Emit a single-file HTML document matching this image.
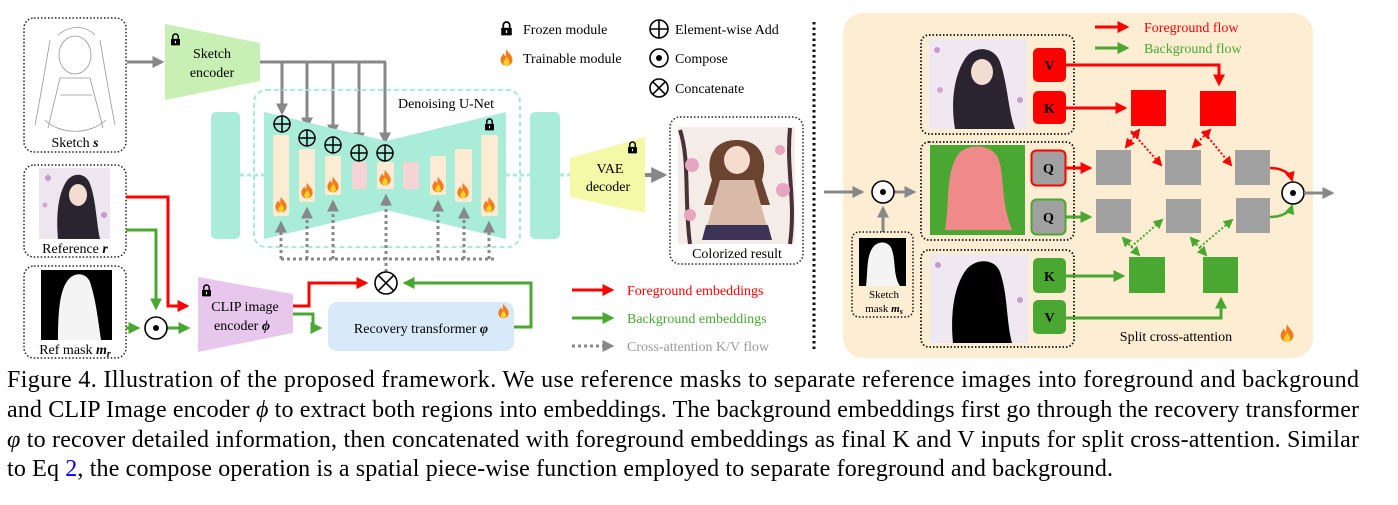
<!DOCTYPE html>
<html><head><meta charset="utf-8"><style>
html,body{margin:0;padding:0;background:#fff;}
svg{display:block;}
text{font-family:"Liberation Serif",serif;}
</style></head><body>
<svg width="1398" height="505" viewBox="0 0 1398 505" xmlns="http://www.w3.org/2000/svg">
<defs>
<marker id="ag" markerWidth="4" markerHeight="4" refX="3.2" refY="2" orient="auto" markerUnits="strokeWidth"><path d="M0,0 L4,2 L0,4 z" fill="#888"/></marker>
<marker id="ar" markerWidth="4" markerHeight="4" refX="3.2" refY="2" orient="auto" markerUnits="strokeWidth"><path d="M0,0 L4,2 L0,4 z" fill="#f00"/></marker>
<marker id="agr" markerWidth="4" markerHeight="4" refX="3.2" refY="2" orient="auto" markerUnits="strokeWidth"><path d="M0,0 L4,2 L0,4 z" fill="#4aa832"/></marker>
<marker id="ars" markerWidth="5" markerHeight="5" refX="4" refY="2.5" orient="auto-start-reverse" markerUnits="strokeWidth"><path d="M0,0 L5,2.5 L0,5 z" fill="#f00"/></marker>
<marker id="ags" markerWidth="5" markerHeight="5" refX="4" refY="2.5" orient="auto-start-reverse" markerUnits="strokeWidth"><path d="M0,0 L5,2.5 L0,5 z" fill="#4aa832"/></marker>
<symbol id="flame" viewBox="0 0 20 24"><path d="M10,1 C12,6 18,9 18,15 C18,20 14,23 10,23 C6,23 2,20 2,15 C2,11 5,9 6,6 C7,9 8,10 9,10 C9,7 9,4 10,1z" fill="#f47a1a"/><path d="M10,11 C12,14 14,16 14,19 C14,21 12,23 10,23 C8,23 6,21 6,19 C6,16 9,15 10,11z" fill="#ffd12a"/></symbol>
<symbol id="lock" viewBox="0 0 16 18"><path d="M4,8 V5 A4,4 0 0 1 12,5 V8" fill="none" stroke="#000" stroke-width="2.2"/><rect x="1.5" y="8" width="13" height="9.5" rx="1" fill="#000"/><rect x="7.2" y="11" width="1.6" height="3.5" fill="#fff"/></symbol>
</defs>

<rect x="24" y="18" width="102" height="134" rx="10" fill="none" stroke="#222" stroke-width="1.5" stroke-dasharray="1.5 2"/>
<g fill="none" stroke="#999" stroke-width="0.8">
<ellipse cx="75" cy="55" rx="16" ry="19"/><path d="M50,40 C45,70 40,100 35,125 M100,40 C105,70 110,100 115,125 M60,78 L48,128 M90,78 L103,128 M60,78 L90,78 M45,120 C60,135 90,135 106,120 M58,35 C70,25 85,25 95,35 M60,95 L92,95"/>
</g>
<text x="75" y="147" font-size="14" text-anchor="middle">Sketch <tspan font-style="italic" font-weight="bold">s</tspan></text>

<rect x="24" y="165" width="102" height="92" rx="10" fill="none" stroke="#222" stroke-width="1.5" stroke-dasharray="1.5 2"/>
<rect x="39" y="168" width="71" height="71" fill="#ede6ef"/>
<path d="M58,239 C56,215 58,195 66,182 C72,172 86,172 90,184 C96,200 96,220 100,239z" fill="#2a2430"/>
<ellipse cx="78" cy="195" rx="9" ry="11" fill="#f3dcd2"/>
<circle cx="48" cy="178" r="3" fill="#c79acb"/><circle cx="104" cy="215" r="3" fill="#c79acb"/><circle cx="45" cy="205" r="2.5" fill="#d9a6c9"/>
<text x="75" y="253" font-size="14" text-anchor="middle">Reference <tspan font-style="italic" font-weight="bold">r</tspan></text>

<rect x="24" y="266" width="102" height="92" rx="10" fill="none" stroke="#222" stroke-width="1.5" stroke-dasharray="1.5 2"/>
<rect x="41" y="270" width="71" height="70" fill="#000"/>
<path d="M58,340 C58,310 60,290 68,280 C74,272 86,272 90,282 C96,300 98,320 101,340z" fill="#f4f4f4"/>
<text x="75" y="354" font-size="14" text-anchor="middle">Ref mask <tspan font-style="italic" font-weight="bold">m</tspan><tspan font-style="italic" font-weight="bold" font-size="10" dy="3">r</tspan></text>

<line x1="127" y1="62" x2="162" y2="62" stroke="#888" stroke-width="3" marker-end="url(#ag)"/>
<polygon points="165,24 260,43 260,81 165,100" fill="#c9f0b4"/>
<use href="#lock" x="170" y="33" width="11" height="13"/>
<text x="212" y="58" font-size="14" text-anchor="middle">Sketch</text>
<text x="212" y="77" font-size="14" text-anchor="middle">encoder</text>
<g stroke="#888" stroke-width="3" fill="none">
<polyline points="260,62 386,62"/>
<line x1="282" y1="62" x2="282" y2="113" marker-end="url(#ag)"/>
<line x1="307" y1="62" x2="307" y2="127" marker-end="url(#ag)"/>
<line x1="333" y1="62" x2="333" y2="134" marker-end="url(#ag)"/>
<line x1="359" y1="62" x2="359" y2="142" marker-end="url(#ag)"/>
<line x1="385" y1="62" x2="385" y2="142" marker-end="url(#ag)"/>
</g>

<rect x="254" y="90" width="266" height="157" rx="12" fill="none" stroke="#9ee8d4" stroke-width="1.8" stroke-dasharray="5 3"/>
<text x="446" y="108" font-size="14" text-anchor="middle">Denoising U-Net</text>
<rect x="211" y="112" width="29" height="127" rx="5" fill="#a9ecd8"/>
<rect x="530" y="112" width="30" height="127" rx="5" fill="#a9ecd8"/>
<line x1="240" y1="175" x2="264" y2="175" stroke="#a9ecd8" stroke-width="3" stroke-dasharray="4 3"/>
<line x1="506" y1="175" x2="530" y2="175" stroke="#a9ecd8" stroke-width="3" stroke-dasharray="4 3"/>
<line x1="560" y1="175" x2="570" y2="175" stroke="#a9ecd8" stroke-width="3" stroke-dasharray="4 3"/>
<polygon points="264,112 386,141 506,112 506,239 386,210 264,239" fill="#a9ecd8"/>
<g fill="#fdebd3">
<rect x="273" y="135" width="16" height="81" rx="2"/>
<rect x="299" y="149" width="16" height="53" rx="2"/>
<rect x="325" y="156" width="16" height="39" rx="2"/>
<rect x="377" y="162" width="17" height="27" rx="2"/>
<rect x="430" y="156" width="16" height="39" rx="2"/>
<rect x="455" y="149" width="17" height="53" rx="2"/>
<rect x="481" y="135" width="17" height="81" rx="2"/>
</g>
<rect x="352" y="162" width="15" height="27" rx="2" fill="#f6d3d4"/>
<rect x="403" y="162" width="16" height="27" rx="2" fill="#f6d3d4"/>
<use href="#lock" x="484" y="118" width="11" height="13"/>
<use href="#flame" x="274" y="196" width="14" height="17"/>
<use href="#flame" x="300" y="182" width="14" height="17"/>
<use href="#flame" x="326" y="176" width="14" height="17"/>
<use href="#flame" x="378" y="169" width="14" height="17"/>
<use href="#flame" x="431" y="176" width="14" height="17"/>
<use href="#flame" x="456" y="182" width="14" height="17"/>
<use href="#flame" x="482" y="196" width="14" height="17"/>
<g fill="none" stroke="#000" stroke-width="1.5">
<circle cx="282" cy="124" r="8"/><path d="M274,124 h16 M282,116 v16"/>
<circle cx="307" cy="138" r="8"/><path d="M299,138 h16 M307,130 v16"/>
<circle cx="333" cy="145" r="8"/><path d="M325,145 h16 M333,137 v16"/>
<circle cx="359" cy="153" r="8"/><path d="M351,153 h16 M359,145 v16"/>
<circle cx="385" cy="153" r="8"/><path d="M377,153 h16 M385,145 v16"/>
</g>
<g stroke="#888" stroke-width="3" stroke-dasharray="3 3" fill="none">
<polyline points="281,259 497,259"/>
<line x1="281" y1="259" x2="281" y2="223" marker-end="url(#ag)"/>
<line x1="307" y1="259" x2="307" y2="209" marker-end="url(#ag)"/>
<line x1="333" y1="259" x2="333" y2="202" marker-end="url(#ag)"/>
<line x1="386" y1="272" x2="386" y2="196" marker-end="url(#ag)"/>
<line x1="438" y1="259" x2="438" y2="202" marker-end="url(#ag)"/>
<line x1="464" y1="259" x2="464" y2="209" marker-end="url(#ag)"/>
<line x1="489" y1="259" x2="489" y2="223" marker-end="url(#ag)"/>
</g>

<polyline points="126,197 168,197 168,306 187,306" fill="none" stroke="#f00" stroke-width="3" marker-end="url(#ar)"/>
<polyline points="126,230 156,230 156,308" fill="none" stroke="#4aa832" stroke-width="3" marker-end="url(#agr)"/>
<line x1="126" y1="328" x2="138" y2="328" stroke="#4aa832" stroke-width="3" marker-end="url(#agr)"/>
<line x1="167" y1="328" x2="188" y2="328" stroke="#4aa832" stroke-width="3" marker-end="url(#agr)"/>
<circle cx="156" cy="328" r="11" fill="#fff" stroke="#000" stroke-width="1.6"/><circle cx="156" cy="328" r="3" fill="#000"/>
<polygon points="198,277 293,294 293,333 198,352" fill="#e8c7ec"/>
<use href="#lock" x="201" y="284" width="11" height="13"/>
<text x="245" y="311" font-size="14" text-anchor="middle">CLIP image</text>
<text x="242" y="330" font-size="14" text-anchor="middle">encoder <tspan font-style="italic" font-weight="bold">ϕ</tspan></text>
<polyline points="293,306 309,306 309,283 366,283" fill="none" stroke="#f00" stroke-width="3" marker-end="url(#ar)"/>
<polyline points="293,314 313,314 313,328 320,328" fill="none" stroke="#4aa832" stroke-width="3" marker-end="url(#agr)"/>
<rect x="328" y="302" width="186" height="49" rx="9" fill="#d8eafa"/>
<text x="421" y="333" font-size="14" text-anchor="middle">Recovery transformer <tspan font-style="italic" font-weight="bold">φ</tspan></text>
<use href="#flame" x="497" y="303" width="13" height="16"/>
<polyline points="514,327 531,327 531,283 405,283" fill="none" stroke="#4aa832" stroke-width="3" marker-end="url(#agr)"/>
<circle cx="386" cy="283" r="11" fill="#fff" stroke="#000" stroke-width="1.6"/>
<path d="M378.2,275.2 L393.8,290.8 M393.8,275.2 L378.2,290.8" stroke="#000" stroke-width="1.6"/>

<polygon points="570,158 645,137 645,213 570,197" fill="#f3f9a6"/>
<use href="#lock" x="627" y="141" width="11" height="13"/>
<text x="610" y="173" font-size="14" text-anchor="middle">VAE</text>
<text x="608" y="191" font-size="14" text-anchor="middle">decoder</text>
<line x1="645" y1="175" x2="664" y2="175" stroke="#888" stroke-width="4" marker-end="url(#ag)"/>
<rect x="670" y="117" width="133" height="147" rx="10" fill="none" stroke="#222" stroke-width="1.5" stroke-dasharray="1.5 2"/>
<rect x="678" y="127" width="117" height="117" fill="#f4ece6"/>
<path d="M680,130 C690,160 684,200 690,244 M790,128 C786,170 796,200 790,244" stroke="#4a3038" stroke-width="4" fill="none"/>
<circle cx="692" cy="165" r="7" fill="#e6a5c0"/><circle cx="783" cy="190" r="7" fill="#e6a5c0"/><circle cx="780" cy="150" r="5" fill="#e6a5c0"/><circle cx="690" cy="215" r="6" fill="#e6a5c0"/>
<path d="M712,180 C705,160 712,140 737,140 C762,140 768,160 762,180 L770,205 L704,205z" fill="#6b4331"/>
<ellipse cx="737" cy="160" rx="13" ry="14" fill="#f6dccd"/>
<path d="M720,180 L754,180 L768,230 L706,230z" fill="#d9b9a8"/>
<path d="M706,225 L768,225 L772,240 L702,240z" fill="#3c3357"/>
<text x="737" y="258" font-size="14" text-anchor="middle">Colorized result</text>

<use href="#lock" x="500" y="21" width="13" height="15"/>
<text x="523" y="34" font-size="14">Frozen module</text>
<use href="#flame" x="499" y="48" width="15" height="19"/>
<text x="523" y="63" font-size="14">Trainable module</text>
<g fill="none" stroke="#000" stroke-width="1.6">
<circle cx="659" cy="29" r="9"/><path d="M650,29 h18 M659,20 v18"/>
<circle cx="659" cy="58" r="9"/>
<circle cx="659" cy="88" r="9"/><path d="M652.6,81.6 L665.4,94.4 M665.4,81.6 L652.6,94.4"/>
</g>
<circle cx="659" cy="58" r="3" fill="#000"/>
<text x="675" y="34" font-size="14">Element-wise Add</text>
<text x="675" y="63" font-size="14">Compose</text>
<text x="675" y="93" font-size="14">Concatenate</text>
<line x1="572" y1="290" x2="612" y2="290" stroke="#f00" stroke-width="3" marker-end="url(#ar)"/>
<text x="627" y="295" font-size="14" fill="#f00">Foreground embeddings</text>
<line x1="572" y1="318" x2="612" y2="318" stroke="#4aa832" stroke-width="3" marker-end="url(#agr)"/>
<text x="627" y="323" font-size="14" fill="#4aa832">Background embeddings</text>
<line x1="572" y1="346" x2="612" y2="346" stroke="#888" stroke-width="3" stroke-dasharray="3 3" marker-end="url(#ag)"/>
<text x="627" y="351" font-size="14" fill="#999">Cross-attention K/V flow</text>

<line x1="814" y1="22" x2="814" y2="350" stroke="#111" stroke-width="3" stroke-dasharray="2.5 3"/>

<rect x="843" y="13" width="470" height="345" rx="20" fill="#fdedd3"/>
<line x1="1095" y1="27" x2="1127" y2="27" stroke="#f00" stroke-width="3" marker-end="url(#ar)"/>
<text x="1144" y="32" font-size="14" fill="#f00">Foreground flow</text>
<line x1="1095" y1="48" x2="1127" y2="48" stroke="#4aa832" stroke-width="3" marker-end="url(#agr)"/>
<text x="1144" y="53" font-size="14" fill="#4aa832">Background flow</text>

<rect x="921" y="35" width="153" height="99" rx="8" fill="none" stroke="#111" stroke-width="1.8" stroke-dasharray="1.5 2"/>
<rect x="929" y="39" width="98" height="90" fill="#efe8f0"/>
<path d="M955,129 C950,100 955,70 968,55 C978,45 995,48 1000,62 C1008,85 1008,110 1015,129z" fill="#2a2430"/>
<ellipse cx="982" cy="72" rx="11" ry="13" fill="#f3dcd2"/>
<circle cx="937" cy="50" r="3" fill="#c79acb"/><circle cx="940" cy="90" r="3" fill="#d9a6c9"/><circle cx="1020" cy="100" r="3" fill="#c79acb"/>
<rect x="1033" y="48" width="33" height="34" rx="5" fill="#f00"/>
<text x="1049.5" y="70" font-size="14" font-weight="bold" text-anchor="middle">V</text>
<rect x="1033" y="91" width="33" height="33" rx="5" fill="#f00"/>
<text x="1049.5" y="113" font-size="14" font-weight="bold" text-anchor="middle">K</text>

<rect x="921" y="142" width="153" height="98" rx="8" fill="none" stroke="#111" stroke-width="1.8" stroke-dasharray="1.5 2"/>
<rect x="930" y="145" width="95" height="90" fill="#4aa832"/>
<path d="M945,230 C950,200 945,170 960,152 C972,143 992,145 998,158 C1005,175 1000,200 1012,230z" fill="#f08a8a"/>
<rect x="1031.5" y="150.5" width="34" height="35" rx="5" fill="#a0a0a0" stroke="#f00" stroke-width="2"/>
<text x="1048.5" y="173" font-size="14" font-weight="bold" text-anchor="middle">Q</text>
<rect x="1031.5" y="199.5" width="34" height="35" rx="5" fill="#a0a0a0" stroke="#4aa832" stroke-width="2"/>
<text x="1048.5" y="222" font-size="14" font-weight="bold" text-anchor="middle">Q</text>

<rect x="921" y="250" width="153" height="97" rx="8" fill="none" stroke="#111" stroke-width="1.8" stroke-dasharray="1.5 2"/>
<rect x="930" y="254" width="98" height="89" fill="#efe8f0"/>
<path d="M953,343 C950,310 955,285 966,270 C975,258 995,258 1000,272 C1008,295 1006,320 1012,343z" fill="#000"/>
<circle cx="938" cy="265" r="3" fill="#c79acb"/><circle cx="1020" cy="300" r="3" fill="#c79acb"/>
<rect x="1033" y="258" width="33" height="35" rx="5" fill="#4aa832"/>
<text x="1049.5" y="281" font-size="14" font-weight="bold" text-anchor="middle">K</text>
<rect x="1033" y="300" width="33" height="34" rx="5" fill="#4aa832"/>
<text x="1049.5" y="322" font-size="14" font-weight="bold" text-anchor="middle">V</text>

<rect x="1131" y="90" width="35" height="36" fill="#f00"/>
<rect x="1200" y="91" width="36" height="35" fill="#f00"/>
<g fill="#a0a0a0">
<rect x="1096" y="150" width="35" height="35"/><rect x="1165" y="150" width="36" height="35"/><rect x="1235" y="150" width="35" height="35"/>
<rect x="1096" y="199" width="35" height="34"/><rect x="1166" y="199" width="35" height="34"/><rect x="1236" y="198" width="34" height="35"/>
</g>
<rect x="1129" y="257" width="36" height="36" fill="#4aa832"/>
<rect x="1203" y="257" width="35" height="36" fill="#4aa832"/>

<polyline points="1066,65 1219,65 1219,84" fill="none" stroke="#f00" stroke-width="3" marker-end="url(#ar)"/>
<line x1="1066" y1="108" x2="1125" y2="108" stroke="#f00" stroke-width="3" marker-end="url(#ar)"/>
<line x1="1066" y1="168" x2="1090" y2="168" stroke="#f00" stroke-width="3" marker-end="url(#ar)"/>
<line x1="1066" y1="217" x2="1090" y2="217" stroke="#4aa832" stroke-width="3" marker-end="url(#agr)"/>
<line x1="1066" y1="276" x2="1123" y2="276" stroke="#4aa832" stroke-width="3" marker-end="url(#agr)"/>
<polyline points="1066,318 1221,318 1221,299" fill="none" stroke="#4aa832" stroke-width="3" marker-end="url(#agr)"/>
<g stroke-width="2" stroke-dasharray="2 2" fill="none">
<line x1="1139" y1="130" x2="1126" y2="147" stroke="#f00" marker-start="url(#ars)" marker-end="url(#ars)"/>
<line x1="1131" y1="131" x2="1161" y2="165" stroke="#f00" marker-end="url(#ars)"/>
<line x1="1210" y1="130" x2="1193" y2="147" stroke="#f00" marker-start="url(#ars)" marker-end="url(#ars)"/>
<line x1="1203" y1="131" x2="1231" y2="165" stroke="#f00" marker-end="url(#ars)"/>
<line x1="1123" y1="238" x2="1139" y2="255" stroke="#4aa832" marker-start="url(#ags)" marker-end="url(#ags)"/>
<line x1="1131" y1="247" x2="1162" y2="220" stroke="#4aa832" marker-end="url(#ags)"/>
<line x1="1191" y1="238" x2="1206" y2="255" stroke="#4aa832" marker-start="url(#ags)" marker-end="url(#ags)"/>
<line x1="1200" y1="247" x2="1232" y2="220" stroke="#4aa832" marker-end="url(#ags)"/>
</g>
<path d="M1270,168 C1282,168 1290,173 1292,180" fill="none" stroke="#f00" stroke-width="2.5" marker-end="url(#ar)"/>
<path d="M1270,217 C1282,217 1290,212 1292,206" fill="none" stroke="#4aa832" stroke-width="2.5" marker-end="url(#agr)"/>
<circle cx="1293" cy="193" r="11" fill="#fff" stroke="#000" stroke-width="1.6"/><circle cx="1293" cy="193" r="3" fill="#000"/>
<line x1="1304" y1="193" x2="1332" y2="193" stroke="#888" stroke-width="3" marker-end="url(#ag)"/>

<line x1="824" y1="192" x2="862" y2="192" stroke="#888" stroke-width="3" marker-end="url(#ag)"/>
<line x1="894" y1="192" x2="914" y2="192" stroke="#888" stroke-width="3" marker-end="url(#ag)"/>
<line x1="883" y1="232" x2="883" y2="208" stroke="#888" stroke-width="3" marker-end="url(#ag)"/>
<circle cx="883" cy="192" r="11" fill="#fff" stroke="#000" stroke-width="1.6"/><circle cx="883" cy="192" r="3" fill="#000"/>
<rect x="852" y="232" width="61" height="85" rx="7" fill="none" stroke="#111" stroke-width="1.5" stroke-dasharray="1.5 2"/>
<rect x="859" y="238" width="47" height="48" fill="#000"/>
<path d="M866,286 C868,270 866,255 874,246 C880,240 890,242 892,250 C896,262 893,275 900,286z" fill="#f4f4f4"/>
<text x="884" y="298" font-size="11" text-anchor="middle">Sketch</text>
<text x="884" y="312" font-size="11" text-anchor="middle">mask <tspan font-style="italic" font-weight="bold">m</tspan><tspan font-style="italic" font-weight="bold" font-size="8" dy="2">s</tspan></text>

<text x="1176" y="341" font-size="14" text-anchor="middle">Split cross-attention</text>
<use href="#flame" x="1279" y="323" width="16" height="20"/>

<text x="7" y="387" font-size="24" textLength="1352" lengthAdjust="spacing">Figure 4.  Illustration of the proposed framework.  We use reference masks to separate reference images into foreground and background</text>
<text x="7" y="417" font-size="24" textLength="1352" lengthAdjust="spacing">and CLIP Image encoder <tspan font-style="italic">ϕ</tspan> to extract both regions into embeddings. The background embeddings first go through the recovery transformer</text>
<text x="7" y="447" font-size="24" textLength="1352" lengthAdjust="spacing"><tspan font-style="italic">φ</tspan> to recover detailed information, then concatenated with foreground embeddings as final K and V inputs for split cross-attention. Similar</text>
<text x="7" y="476" font-size="24" textLength="1106" lengthAdjust="spacing">to Eq <tspan fill="#00f">2</tspan>, the compose operation is a spatial piece-wise function employed to separate foreground and background.</text>
</svg>
</body></html>
